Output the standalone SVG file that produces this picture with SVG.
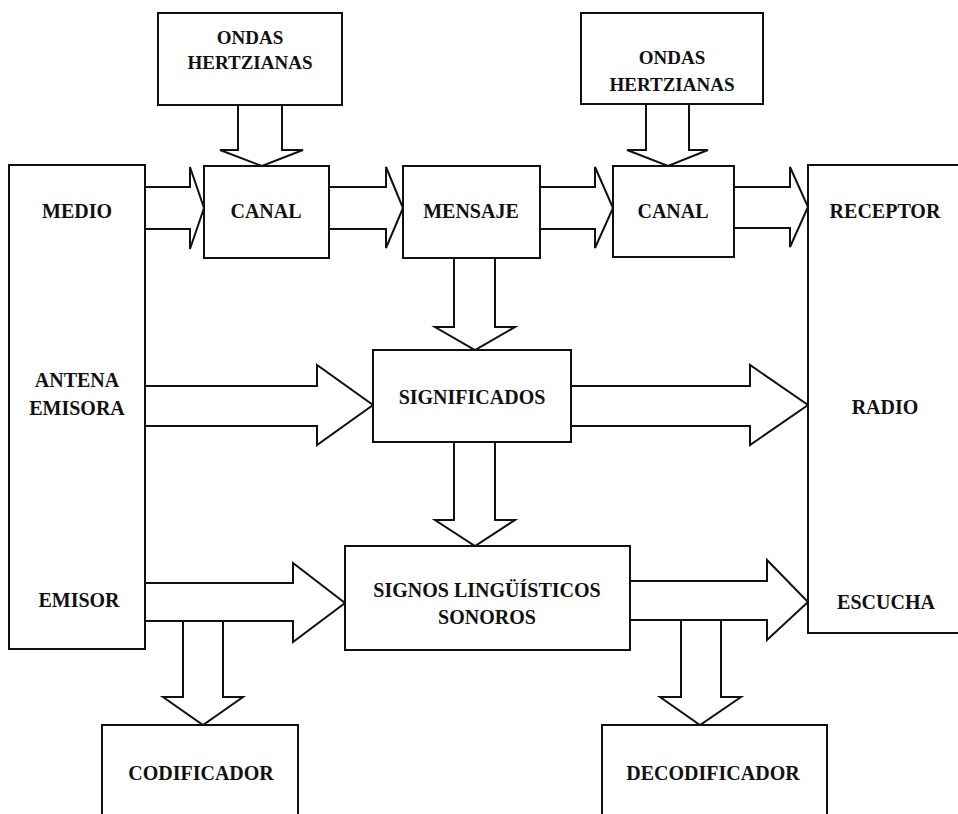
<svg xmlns="http://www.w3.org/2000/svg" width="958" height="814" viewBox="0 0 958 814">
<style>
.box{fill:#fff;stroke:#111;stroke-width:2}
.arr{fill:#fff;stroke:#111;stroke-width:2;stroke-linejoin:miter}
text{font-family:"Liberation Serif","Times New Roman",serif;font-weight:bold;font-size:20px;fill:#111;text-anchor:middle}
.sm{font-size:19px}
</style>
<rect width="958" height="814" fill="#fff"/>
<g id="connectors">
<polygon class="arr" points="238,105 282,105 282,150 303,150 262,166 220,150 238,150"/>
<polygon class="arr" points="646,104 689,104 689,150 708,150 668,166 627,150 646,150"/>
<polygon class="arr" points="145,187 190,187 190,167 204,208 190,249 190,229 145,229"/>
<polygon class="arr" points="329,187 386,187 386,167 403,208 386,248 386,229 329,229"/>
<polygon class="arr" points="540,187 595,187 595,167 613,208 595,248 595,229 540,229"/>
<polygon class="arr" points="734,187 790,187 790,167 808,207 790,247 790,228 734,228"/>
<polygon class="arr" points="454,258 495,258 495,327 515,327 475,350 435,327 454,327"/>
<polygon class="arr" points="145,386 317,386 317,365 373,405 317,445 317,426 145,426"/>
<polygon class="arr" points="571,386 750,386 750,365 808,405 750,445 750,426 571,426"/>
<polygon class="arr" points="454,442 495,442 495,520 515,520 475,546 435,520 454,520"/>
<polygon class="arr" points="145,583 293,583 293,563 345,603 293,642 293,621 145,621"/>
<polygon class="arr" points="630,581 767,581 767,560 808,602 767,640 767,620 630,620"/>
<polygon class="arr" points="183,621 223,621 223,697 243,697 203,725 163,697 183,697"/>
<polygon class="arr" points="681,620 721,620 721,697 741,697 700,725 660,697 681,697"/>
</g>
<g id="ondas1"><rect class="box" x="158" y="13" width="184" height="92"/><text class="sm" x="250" y="44">ONDAS</text><text class="sm" x="250" y="69">HERTZIANAS</text></g>
<g id="ondas2"><rect class="box" x="581" y="13" width="182" height="91"/><text class="sm" x="672" y="64">ONDAS</text><text class="sm" x="672" y="91">HERTZIANAS</text></g>
<g id="emisor"><rect class="box" x="9" y="165" width="136" height="484"/><text x="77" y="218">MEDIO</text><text x="77" y="387">ANTENA</text><text x="77" y="415">EMISORA</text><text x="79" y="607">EMISOR</text></g>
<g id="canal1"><rect class="box" x="204" y="166" width="125" height="92"/><text x="266" y="218">CANAL</text></g>
<g id="mensaje"><rect class="box" x="403" y="166" width="137" height="92"/><text x="471" y="218">MENSAJE</text></g>
<g id="canal2"><rect class="box" x="613" y="166" width="121" height="91"/><text x="673" y="218">CANAL</text></g>
<g id="receptor"><rect class="box" x="808" y="165" width="170" height="468"/><text x="885" y="218">RECEPTOR</text><text x="885" y="414">RADIO</text><text x="886" y="609">ESCUCHA</text></g>
<g id="significados"><rect class="box" x="373" y="350" width="198" height="92"/><text x="472" y="404">SIGNIFICADOS</text></g>
<g id="signos"><rect class="box" x="345" y="546" width="285" height="104"/><text x="487" y="597">SIGNOS LINGÜÍSTICOS</text><text x="487" y="624">SONOROS</text></g>
<g id="codificador"><rect class="box" x="102" y="725" width="196" height="110"/><text x="201" y="780">CODIFICADOR</text></g>
<g id="decodificador"><rect class="box" x="602" y="725" width="225" height="110"/><text x="713" y="780">DECODIFICADOR</text></g>
</svg>
